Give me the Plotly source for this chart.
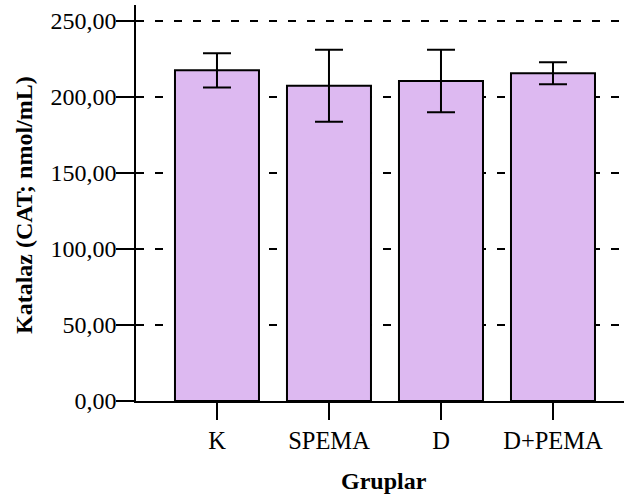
import plotly.graph_objects as go

categories = ["K", "SPEMA", "D", "D+PEMA"]
means = [217.5, 207.4, 210.5, 215.6]
errors = [11.3, 23.7, 20.5, 7.2]
y_ticks = [0, 50, 100, 150, 200, 250]
y_tick_labels = ["0,00", "50,00", "100,00", "150,00", "200,00", "250,00"]

FONT = "Liberation Serif"

fig = go.Figure()
fig.add_trace(go.Bar(
    x=list(range(len(categories))),
    y=means,
    width=0.75,
    marker=dict(color="#DDB9F1", line=dict(color="black", width=2)),
    error_y=dict(type="data", array=errors, visible=True, color="black",
                 thickness=2, width=14),
    showlegend=False,
))

fig.update_layout(
    width=624, height=502,
    margin=dict(l=136, r=0, t=5, b=101),
    plot_bgcolor="white", paper_bgcolor="white",
    font=dict(family=FONT, size=24, color="black"),
    xaxis=dict(
        range=[-0.723, 3.634],
        tickvals=list(range(len(categories))),
        ticktext=categories,
        ticks="outside", ticklen=17, tickwidth=2, tickcolor="black",
        showline=True, linecolor="black", linewidth=1.5,
        showgrid=False, zeroline=False,
        tickfont=dict(family=FONT, size=24.5),
    ),
    yaxis=dict(
        range=[0, 260.5],
        tickvals=y_ticks, ticktext=y_tick_labels,
        ticks="outside", ticklen=18, tickwidth=2, tickcolor="black",
        ticklabelstandoff=-5,
        showline=True, linecolor="black", linewidth=1.5,
        showgrid=True, gridcolor="black", gridwidth=1.5, griddash="8px,11px",
        zeroline=False,
        tickfont=dict(family=FONT, size=24),
    ),
    annotations=[
        dict(text="<b>Katalaz (CAT; nmol/mL)</b>", textangle=-90,
             xref="paper", yref="paper",
             x=(24 - 136) / 488, y=(401 - 205) / 396,
             xanchor="center", yanchor="middle", showarrow=False,
             font=dict(family=FONT, size=24)),
        dict(text="<b>Gruplar</b>",
             xref="paper", yref="paper",
             x=(384 - 136) / 488, y=(401 - 481) / 396,
             xanchor="center", yanchor="middle", showarrow=False,
             font=dict(family=FONT, size=24)),
    ],
)

fig.write_html("out.html")
